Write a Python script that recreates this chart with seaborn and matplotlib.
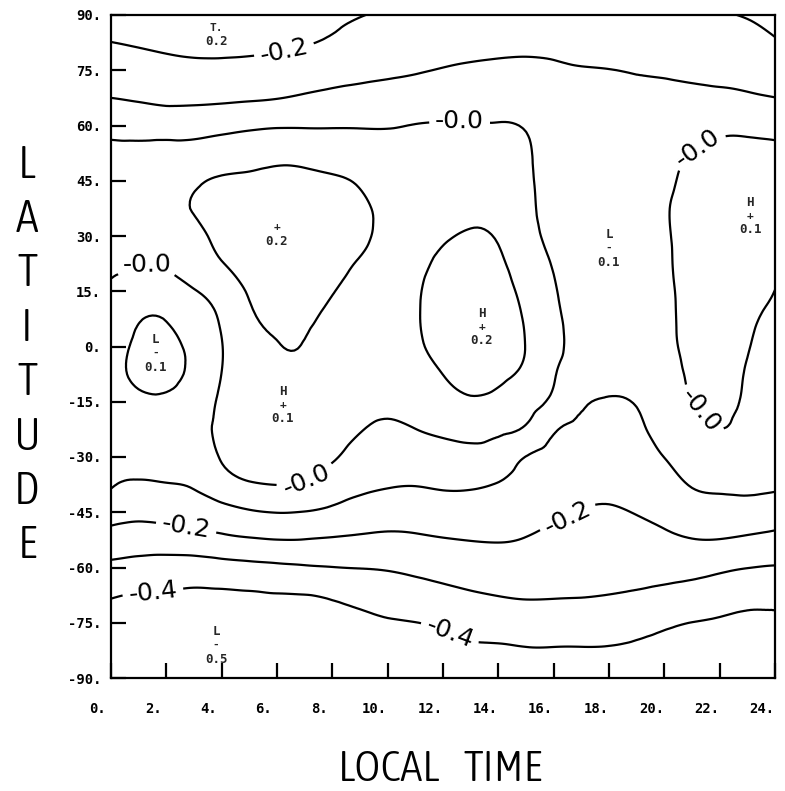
import numpy as np
import matplotlib
matplotlib.use("Agg")
import matplotlib.pyplot as plt
import matplotlib.tri as mtri
from matplotlib import font_manager
from matplotlib.font_manager import FontProperties
from matplotlib.transforms import ScaledTranslation
import seaborn as sns

# grid: local time (hours) x latitude (deg)
local_time = [0, 1, 2, 3, 4, 5, 6, 7, 8, 9, 10, 11, 12,
              13, 14, 15, 16, 17, 18, 19, 20, 21, 22, 23, 24]
latitude = [90, 82.5, 75, 67.5, 60, 52.5, 45, 37.5, 30, 22.5, 15, 7.5, 0,
            -7.5, -15, -22.5, -30, -37.5, -45, -52.5, -60, -67.5, -75, -82.5, -90]

# one column per local time, north to south
lt_00 = [-0.230, -0.199, -0.149, -0.100, -0.035, 0.020, 0.035, 0.045, 0.028, 0.010, -0.012, -0.038, -0.065, -0.076, -0.080, -0.085, -0.090, -0.094, -0.161, -0.240, -0.325, -0.395, -0.419, -0.440, -0.460]
lt_01 = [-0.235, -0.207, -0.161, -0.108, -0.042, 0.022, 0.036, 0.050, 0.026, 0.003, -0.041, -0.095, -0.111, -0.112, -0.090, -0.080, -0.070, -0.111, -0.175, -0.253, -0.335, -0.403, -0.425, -0.450, -0.470]
lt_02 = [-0.240, -0.214, -0.173, -0.117, -0.047, 0.030, 0.048, 0.070, 0.037, 0.007, -0.042, -0.097, -0.114, -0.115, -0.093, -0.085, -0.070, -0.104, -0.167, -0.249, -0.343, -0.407, -0.430, -0.455, -0.480]
lt_03 = [-0.245, -0.218, -0.181, -0.120, -0.041, 0.035, 0.085, 0.105, 0.072, 0.045, -0.005, -0.050, -0.080, -0.080, -0.055, -0.035, -0.045, -0.090, -0.152, -0.240, -0.344, -0.411, -0.440, -0.490, -0.485]
lt_04 = [-0.245, -0.219, -0.181, -0.117, -0.029, 0.050, 0.110, 0.140, 0.130, 0.095, 0.040, 0.010, -0.003, 0.001, 0.013, 0.014, 0.004, -0.040, -0.133, -0.222, -0.337, -0.410, -0.445, -0.490, -0.485]
lt_05 = [-0.240, -0.216, -0.178, -0.111, -0.017, 0.062, 0.120, 0.175, 0.180, 0.150, 0.110, 0.085, 0.065, 0.060, 0.055, 0.050, 0.030, -0.008, -0.110, -0.209, -0.328, -0.407, -0.440, -0.480, -0.485]
lt_06 = [-0.235, -0.213, -0.170, -0.103, -0.009, 0.073, 0.130, 0.185, 0.200, 0.180, 0.150, 0.115, 0.097, 0.088, 0.092, 0.085, 0.050, 0.001, -0.098, -0.201, -0.319, -0.403, -0.430, -0.460, -0.475]
lt_07 = [-0.225, -0.205, -0.154, -0.089, -0.008, 0.068, 0.125, 0.165, 0.175, 0.160, 0.135, 0.110, 0.097, 0.087, 0.088, 0.075, 0.042, -0.008, -0.103, -0.202, -0.310, -0.401, -0.425, -0.450, -0.465]
lt_08 = [-0.215, -0.189, -0.137, -0.078, -0.007, 0.059, 0.110, 0.135, 0.140, 0.125, 0.103, 0.085, 0.070, 0.060, 0.055, 0.040, 0.010, -0.048, -0.119, -0.209, -0.302, -0.391, -0.420, -0.445, -0.460]
lt_09 = [-0.203, -0.166, -0.123, -0.070, -0.006, 0.043, 0.090, 0.112, 0.112, 0.095, 0.080, 0.070, 0.060, 0.045, 0.030, 0.005, -0.035, -0.079, -0.140, -0.216, -0.297, -0.374, -0.415, -0.435, -0.455]
lt_10 = [-0.190, -0.152, -0.114, -0.063, -0.005, 0.024, 0.050, 0.080, 0.083, 0.078, 0.072, 0.068, 0.060, 0.040, 0.020, -0.016, -0.055, -0.093, -0.154, -0.221, -0.292, -0.355, -0.407, -0.430, -0.450]
lt_11 = [-0.180, -0.143, -0.106, -0.054, 0.002, 0.020, 0.042, 0.060, 0.072, 0.080, 0.088, 0.090, 0.085, 0.065, 0.035, -0.001, -0.049, -0.097, -0.155, -0.215, -0.280, -0.341, -0.401, -0.425, -0.445]
lt_12 = [-0.170, -0.134, -0.096, -0.045, 0.005, 0.025, 0.045, 0.065, 0.090, 0.120, 0.150, 0.160, 0.140, 0.101, 0.060, 0.015, -0.034, -0.088, -0.146, -0.205, -0.266, -0.326, -0.388, -0.420, -0.440]
lt_13 = [-0.165, -0.128, -0.087, -0.037, 0.005, 0.028, 0.050, 0.075, 0.110, 0.145, 0.180, 0.200, 0.190, 0.150, 0.085, 0.025, -0.027, -0.089, -0.144, -0.198, -0.253, -0.310, -0.371, -0.410, -0.435]
lt_14 = [-0.160, -0.123, -0.082, -0.036, 0.003, 0.020, 0.040, 0.060, 0.090, 0.120, 0.150, 0.170, 0.160, 0.125, 0.070, 0.015, -0.043, -0.105, -0.150, -0.195, -0.246, -0.298, -0.359, -0.410, -0.430]
lt_15 = [-0.155, -0.119, -0.083, -0.047, -0.006, 0.008, 0.012, 0.015, 0.025, 0.045, 0.070, 0.090, 0.098, 0.080, 0.035, -0.012, -0.102, -0.136, -0.169, -0.204, -0.248, -0.292, -0.351, -0.405, -0.425]
lt_16 = [-0.155, -0.120, -0.090, -0.068, -0.048, -0.038, -0.032, -0.026, -0.020, -0.006, 0.009, 0.023, 0.028, 0.007, -0.020, -0.090, -0.126, -0.156, -0.186, -0.220, -0.257, -0.294, -0.350, -0.405, -0.425]
lt_17 = [-0.160, -0.125, -0.097, -0.082, -0.070, -0.066, -0.066, -0.070, -0.075, -0.073, -0.062, -0.048, -0.040, -0.050, -0.088, -0.117, -0.145, -0.174, -0.202, -0.233, -0.265, -0.296, -0.352, -0.405, -0.425]
lt_18 = [-0.165, -0.132, -0.099, -0.088, -0.078, -0.075, -0.078, -0.084, -0.089, -0.087, -0.078, -0.065, -0.060, -0.075, -0.106, -0.131, -0.156, -0.181, -0.208, -0.239, -0.269, -0.301, -0.360, -0.405, -0.425]
lt_19 = [-0.172, -0.138, -0.104, -0.085, -0.072, -0.065, -0.062, -0.062, -0.062, -0.058, -0.050, -0.045, -0.045, -0.060, -0.094, -0.119, -0.145, -0.171, -0.197, -0.232, -0.269, -0.310, -0.372, -0.410, -0.430]
lt_20 = [-0.180, -0.145, -0.111, -0.075, -0.050, -0.030, -0.020, -0.010, -0.012, -0.013, -0.015, -0.016, -0.018, -0.025, -0.040, -0.065, -0.099, -0.137, -0.176, -0.218, -0.268, -0.323, -0.387, -0.420, -0.435]
lt_21 = [-0.190, -0.154, -0.118, -0.079, -0.038, 0.002, 0.020, 0.028, 0.028, 0.025, 0.022, 0.020, 0.016, 0.008, -0.002, -0.035, -0.065, -0.095, -0.146, -0.203, -0.271, -0.337, -0.401, -0.430, -0.445]
lt_22 = [-0.195, -0.159, -0.124, -0.080, -0.021, 0.020, 0.045, 0.055, 0.055, 0.050, 0.042, 0.035, 0.027, 0.018, 0.012, -0.001, -0.042, -0.083, -0.138, -0.202, -0.284, -0.352, -0.410, -0.435, -0.450]
lt_23 = [-0.205, -0.168, -0.131, -0.089, -0.026, 0.030, 0.065, 0.080, 0.075, 0.055, 0.035, 0.017, 0.005, -0.006, -0.012, -0.035, -0.060, -0.080, -0.142, -0.213, -0.298, -0.368, -0.420, -0.440, -0.455]
lt_24 = [-0.225, -0.192, -0.146, -0.099, -0.034, 0.020, 0.030, 0.038, 0.032, 0.015, -0.001, -0.030, -0.058, -0.072, -0.078, -0.083, -0.089, -0.090, -0.152, -0.224, -0.307, -0.381, -0.410, -0.435, -0.455]

plain_levels = [-0.3, -0.1, 0.1]
labelled_levels = [-0.4, -0.2, 0.0]
label_spots = [(6.3, 79.0), (12.6, 61.5), (1.3, 22.0), (21.2, 54.0), (21.2, -18.0),
               (7.1, -37.0), (2.7, -49.8), (16.5, -46.3), (1.5, -65.7), (12.3, -77.0)]

# highs / lows printed on the chart
ext_letter = ["", "", "L", "H", "H", "L", "H", "L"]
ext_marker = ["T.", "+", "-", "+", "+", "-", "+", "-"]
ext_value = ["0.2", "0.2", "0.1", "0.1", "0.2", "0.1", "0.1", "0.5"]
ext_lt = [3.8, 6.0, 1.6, 6.2, 13.4, 18.0, 23.1, 3.8]
ext_lat = [86.5, 32.4, -1.8, -15.9, 5.3, 26.7, 35.4, -81.1]

x_ticks = [0, 2, 4, 6, 8, 10, 12, 14, 16, 18, 20, 22, 24]
x_tick_labels = ["0.", "2.", "4.", "6.", "8.", "10.", "12.", "14.", "16.", "18.", "20.", "22.", "24."]
y_ticks = [90, 75, 60, 45, 30, 15, 0, -15, -30, -45, -60, -75, -90]
y_tick_labels = ["90.", "75.", "60.", "45.", "30.", "15.", "0.", "-15.", "-30.", "-45.", "-60.", "-75.", "-90."]
x_title_words = ["LOCAL", "TIME"]

sns.set_style("white")
plt.rcParams['font.family'] = ['DejaVu Sans']
tick_font = ['DejaVu Sans Mono', 'DejaVu Sans']


def narrow_font():
    # look for any condensed / narrow face installed, prefer a light weight
    weights = {'ultralight': 200, 'light': 300, 'normal': 400, 'regular': 400, 'book': 400,
               'medium': 500, 'semibold': 600, 'bold': 700, 'heavy': 800, 'black': 900}
    best = None
    for f in font_manager.fontManager.ttflist:
        name = f.name
        narrow = ('Narrow' in name or 'Condensed' in name or 'Cond' in f.fname or
                  str(f.stretch) in ('condensed', 'semi-condensed', 'extra-condensed',
                                     'ultra-condensed'))
        if not narrow or f.style != 'normal':
            continue
        w = f.weight if isinstance(f.weight, int) else weights.get(str(f.weight).lower(), 400)
        score = abs(w - 300)
        if best is None or score < best[0]:
            best = (score, f.fname)
    if best is None:
        return None
    return best[1]


narrow_path = narrow_font()
if narrow_path:
    axis_prop = dict(fontproperties=FontProperties(fname=narrow_path))
    axis_scale = 1.0
else:
    axis_prop = dict(family='DejaVu Sans')
    axis_scale = 0.85

columns = [lt_00, lt_01, lt_02, lt_03, lt_04, lt_05, lt_06, lt_07, lt_08, lt_09, lt_10, lt_11, lt_12,
           lt_13, lt_14, lt_15, lt_16, lt_17, lt_18, lt_19, lt_20, lt_21, lt_22, lt_23, lt_24]
Z = np.column_stack(columns)
X, Y = np.meshgrid(np.array(local_time, float), np.array(latitude, float))

# two triangles per grid cell, then smooth with the cubic refiner
idx = np.arange(Z.size).reshape(Z.shape)
a, b = idx[:-1, :-1].ravel(), idx[:-1, 1:].ravel()
c, d = idx[1:, :-1].ravel(), idx[1:, 1:].ravel()
triangles = np.concatenate([np.column_stack([a, c, d]), np.column_stack([a, d, b])])
tri = mtri.Triangulation(X.ravel(), Y.ravel(), triangles)
interp = mtri.CubicTriInterpolator(tri, Z.ravel(), kind='min_E')
tri_f, z_f = mtri.UniformTriRefiner(tri).refine_field(Z.ravel(), triinterpolator=interp, subdiv=3)

fig = plt.figure(figsize=(7.85, 7.91), dpi=100)
ax = fig.add_axes([111 / 785, 113 / 791, 664 / 785, 663 / 791])

ax.tricontour(tri_f, z_f, levels=plain_levels, colors='black', linewidths=1.6,
              linestyles='solid')
cs = ax.tricontour(tri_f, z_f, levels=labelled_levels, colors='black', linewidths=1.6,
                   linestyles='solid')


def fmt(v):
    return "-0.0" if abs(v) < 1e-9 else f"{v:.1f}"


ax.clabel(cs, manual=label_spots, fmt=fmt, fontsize=18, inline=True,
          inline_spacing=6, colors='black')

for let, mk, val, x, y in zip(ext_letter, ext_marker, ext_value, ext_lt, ext_lat):
    ax.annotate(mk, (x, y), ha='center', va='center', fontsize=8, fontweight='bold',
                family=tick_font)
    if let:
        ax.annotate(let, (x, y), xytext=(0, 10), textcoords='offset points',
                    ha='center', va='center', fontsize=9, fontweight='bold', family=tick_font)
    ax.annotate(val, (x, y), xytext=(0, -10), textcoords='offset points',
                ha='center', va='center', fontsize=9, fontweight='bold', family=tick_font)

ax.set_xlim(0, 24)
ax.set_ylim(-90, 90)
ax.set_xticks(x_ticks)
ax.set_xticklabels(x_tick_labels, family=tick_font, fontweight='bold', fontsize=10)
ax.set_yticks(y_ticks)
ax.set_yticklabels(y_tick_labels, family=tick_font, fontweight='bold', fontsize=10)
ax.tick_params(axis='both', direction='in', length=11, width=1.6, color='black',
               top=False, right=False, bottom=True, left=True, labelcolor='black')
ax.tick_params(axis='x', pad=17)
ax.tick_params(axis='y', pad=7)
shift = ScaledTranslation(-13 / 100, 0, fig.dpi_scale_trans)
for lab in ax.get_xticklabels():
    lab.set_transform(lab.get_transform() + shift)
for sp in ax.spines.values():
    sp.set_visible(True)
    sp.set_color('black')
    sp.set_linewidth(1.6)
ax.grid(False)

for i, ch in enumerate("LATITUDE"):
    t = fig.text(27 / 785, 1 - (165 + 54.4 * i) / 791, ch, ha='center', va='center',
                 color='black', **axis_prop)
    t.set_fontsize(33 * axis_scale)
for word, xc in zip(x_title_words, [389, 503]):
    t = fig.text(xc / 785, 1 - 769 / 791, word, ha='center', va='center',
                 color='black', **axis_prop)
    t.set_fontsize(32 * axis_scale)

fig.savefig("out.png", dpi=100, facecolor='white')
